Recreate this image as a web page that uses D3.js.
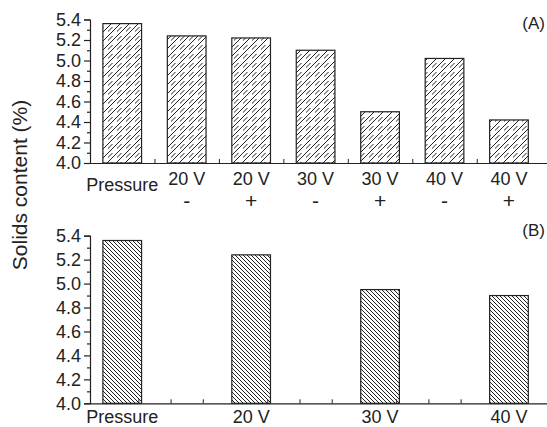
<!DOCTYPE html>
<html>
<head>
<meta charset="utf-8">
<script src="https://cdn.jsdelivr.net/npm/d3@7"></script>
<style>
  html, body { margin: 0; padding: 0; background: #fff; }
  svg text { font-family: "Liberation Sans", Arial, Helvetica, sans-serif; fill: #222; }
</style>
</head>
<body>
<svg id="chart" width="547" height="427"></svg>
<script>
// Panel A: pressure vs. voltage with polarity
const catsA = ["Pressure", "20 V", "20 V", "30 V", "30 V", "40 V", "40 V"];
const signA = ["", "-", "+", "-", "+", "-", "+"];
const valsA = [5.36, 5.24, 5.22, 5.10, 4.50, 5.02, 4.42];

// Panel B: pressure vs. voltage (same slots as A, every second one)
const catsB = ["Pressure", "20 V", "30 V", "40 V"];
const slotB = [0, 2, 4, 6];
const valsB = [5.36, 5.24, 4.95, 4.90];

const yTicks = [4.0, 4.2, 4.4, 4.6, 4.8, 5.0, 5.2, 5.4];
const yMinor = [4.1, 4.3, 4.5, 4.7, 4.9, 5.1, 5.3];

const svg = d3.select("#chart");
const ink = "#222";

// hatch patterns: a tile of size 2*s holding two diagonal lines (spacing s)
const defs = svg.append("defs");
function hatch(id, s, forward) {
  const w = 2 * s;
  const p = defs.append("pattern").attr("id", id)
    .attr("patternUnits", "userSpaceOnUse").attr("width", w).attr("height", w);
  let d = "";
  for (let k = -1; k <= 2; k++) {
    const o = k * s;
    d += forward
      ? `M${o - w},${w} L${o + w},${-w} `
      : `M${o - w},${-w} L${o + w},${w} `;
  }
  p.append("rect").attr("width", w).attr("height", w).attr("fill", "#fff");
  p.append("path").attr("d", d).attr("stroke", "#222").attr("stroke-width", 1);
}
hatch("hatchA", 4.5, true);
hatch("hatchB", 4, false);

const left = 90;
const x = d3.scaleLinear().domain([0, 7.09]).range([left, 547]);
const bandW = x(0.6) - x(0);

function panel(yTop, yBot, cats, slots, vals, patId, tickPos, tag, tagY) {
  const y = d3.scaleLinear().domain([4.0, 5.4]).range([yBot, yTop]);
  const g = svg.append("g");

  // bars
  g.selectAll("rect.bar").data(vals).enter().append("rect")
    .attr("class", "bar")
    .attr("x", (d, i) => x(slots[i] + 0.5) - bandW / 2)
    .attr("width", bandW)
    .attr("y", d => y(d))
    .attr("height", d => y(4.0) - y(d))
    .attr("fill", `url(#${patId})`)
    .attr("stroke", ink).attr("stroke-width", 1.2);

  // y axis: major ticks with labels
  const ya = g.append("g").attr("transform", `translate(${left},0)`)
    .call(d3.axisLeft(y).tickValues(yTicks).tickFormat(d3.format(".1f")).tickSize(6).tickPadding(3));
  ya.select(".domain").attr("stroke", ink).attr("stroke-width", 1.2);
  ya.selectAll(".tick line").attr("stroke", ink).attr("stroke-width", 1.2);
  ya.selectAll(".tick text").style("font-size", "18px").attr("fill", ink);
  // minor ticks
  g.append("g").attr("transform", `translate(${left},0)`)
    .call(d3.axisLeft(y).tickValues(yMinor).tickFormat("").tickSize(3))
    .call(s => s.select(".domain").remove())
    .selectAll(".tick line").attr("stroke", ink).attr("stroke-width", 1.2);

  // x axis with inward ticks
  const xa = g.append("g").attr("transform", `translate(0,${yBot})`)
    .call(d3.axisTop(x).tickValues(tickPos).tickFormat("").tickSize(4).tickSizeOuter(0));
  xa.select(".domain").attr("stroke", ink).attr("stroke-width", 1.2);
  xa.selectAll(".tick line").attr("stroke", ink).attr("stroke-width", 1);

  g.append("text").attr("x", 545).attr("y", tagY).attr("text-anchor", "end")
    .style("font-size", "17px").text(tag);
  return g;
}

const gA = panel(19.5, 163, catsA, d3.range(7), valsA, "hatchA", [1, 2, 3, 4, 5, 6], "(A)", 29);
const gB = panel(235.7, 403.3, catsB, slotB, valsB, "hatchB",
  [0.75, 1.25, 1.75, 2.75, 3.25, 3.75, 4.75, 5.25, 5.75], "(B)", 236);

// category labels, panel A
catsA.forEach((c, i) => {
  const cx = x(i + 0.5);
  gA.append("text").attr("x", cx).attr("y", c === "Pressure" ? 191 : 185)
    .attr("text-anchor", "middle").style("font-size", "18px").text(c);
  if (signA[i]) {
    gA.append("text").attr("x", cx).attr("y", 208)
      .attr("text-anchor", "middle").style("font-size", "21px").text(signA[i]);
  }
});

// category labels, panel B
catsB.forEach((c, i) => {
  gB.append("text").attr("x", x(slotB[i] + 0.5)).attr("y", 423)
    .attr("text-anchor", "middle").style("font-size", "18px").text(c);
});

// shared y title
svg.append("text")
  .attr("transform", "translate(27,185) rotate(-90)")
  .attr("text-anchor", "middle")
  .style("font-size", "21px")
  .text("Solids content (%)");
</script>
</body>
</html>
